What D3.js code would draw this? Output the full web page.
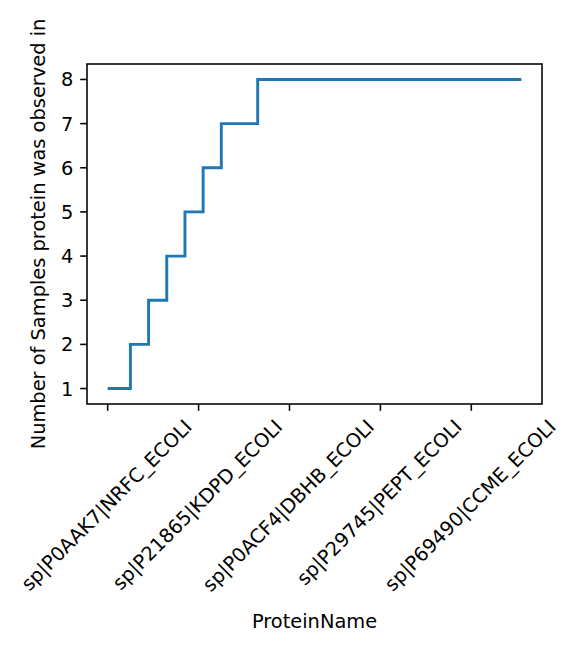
<!DOCTYPE html>
<html>
<head>
<meta charset="utf-8">
<script src="https://cdn.jsdelivr.net/npm/d3@7"></script>
<style>
  html, body { margin: 0; padding: 0; background: #fff; }
  svg text { font-family: "DejaVu Sans", sans-serif; fill: #000; }
</style>
</head>
<body>
<svg id="chart" width="580" height="648"></svg>
<script>
// ---- data ----
const xTickLabels = [
  "sp|P0AAK7|NRFC_ECOLI",
  "sp|P21865|KDPD_ECOLI",
  "sp|P0ACF4|DBHB_ECOLI",
  "sp|P29745|PEPT_ECOLI",
  "sp|P69490|CCME_ECOLI"
];
const xTickPositions = [0, 20, 40, 60, 80];
const yTicks = [1, 2, 3, 4, 5, 6, 7, 8];
const sampleCounts = [
  1, 1, 1, 1, 1,
  2, 2, 2, 2,
  3, 3, 3, 3,
  4, 4, 4, 4,
  5, 5, 5, 5,
  6, 6, 6, 6,
  7, 7, 7, 7, 7, 7, 7, 7,
  8, 8, 8, 8, 8, 8, 8, 8, 8, 8,
  8, 8, 8, 8, 8, 8, 8, 8, 8, 8,
  8, 8, 8, 8, 8, 8, 8, 8, 8, 8,
  8, 8, 8, 8, 8, 8, 8, 8, 8, 8,
  8, 8, 8, 8, 8, 8, 8, 8, 8, 8,
  8, 8, 8, 8, 8, 8, 8, 8, 8
];
const xLabel = "ProteinName";
const yLabel = "Number of Samples protein was observed in";

// ---- layout ----
const fs = 19.4;
const L = 87, R = 542, T = 64, B = 404;
const tickLen = 6.8, tickPad = 6.8, lw = 1.56;

const svg = d3.select("#chart");
const n = sampleCounts.length - 1;
const x = d3.scaleLinear().domain([-0.05 * n, n * 1.05]).range([L, R]);
const yMin = d3.min(sampleCounts), yMax = d3.max(sampleCounts);
const yPad = (yMax - yMin) * 0.05;
const y = d3.scaleLinear().domain([yMin - yPad, yMax + yPad]).range([B, T]);

// line
const line = d3.line()
  .x((d, i) => x(i))
  .y(d => y(d))
  .curve(d3.curveStepAfter);
svg.append("path")
  .datum(sampleCounts)
  .attr("d", line)
  .attr("fill", "none")
  .attr("stroke", "#1f77b4")
  .attr("stroke-width", 2.9)
  .attr("stroke-linejoin", "miter")
  .attr("stroke-linecap", "butt");

// frame
svg.append("rect")
  .attr("x", L).attr("y", T)
  .attr("width", R - L).attr("height", B - T)
  .attr("fill", "none").attr("stroke", "#000").attr("stroke-width", lw);

// y ticks
const yg = svg.append("g");
yTicks.forEach(v => {
  yg.append("line")
    .attr("x1", L).attr("x2", L - tickLen)
    .attr("y1", y(v)).attr("y2", y(v))
    .attr("stroke", "#000").attr("stroke-width", lw);
  yg.append("text")
    .attr("x", L - tickLen - tickPad)
    .attr("y", y(v))
    .attr("dy", "0.36em")
    .attr("text-anchor", "end")
    .attr("font-size", fs)
    .text(v);
});

// x ticks
const xg = svg.append("g");
const asc = 0.76 * fs, desc = 0.236 * fs;
const topY = B + tickLen + tickPad;
xTickPositions.forEach((p, i) => {
  const tx = x(p);
  xg.append("line")
    .attr("x1", tx).attr("x2", tx)
    .attr("y1", B).attr("y2", B + tickLen)
    .attr("stroke", "#000").attr("stroke-width", lw);
  const t = xg.append("text")
    .attr("font-size", fs)
    .attr("text-anchor", "start")
    .text(xTickLabels[i]);
  const w = t.node().getComputedTextLength();
  const c = Math.SQRT1_2;
  const x0 = tx - 0.5 * c * (w + desc - asc);
  const y0 = topY + c * (w + asc);
  t.attr("transform", `translate(${x0},${y0}) rotate(-45)`);
});

// axis labels
svg.append("text")
  .attr("x", (L + R) / 2)
  .attr("y", 628)
  .attr("text-anchor", "middle")
  .attr("font-size", fs)
  .text(xLabel);

svg.append("text")
  .attr("transform", `translate(45,${(T + B) / 2}) rotate(-90)`)
  .attr("text-anchor", "middle")
  .attr("font-size", fs)
  .text(yLabel);
</script>
</body>
</html>
